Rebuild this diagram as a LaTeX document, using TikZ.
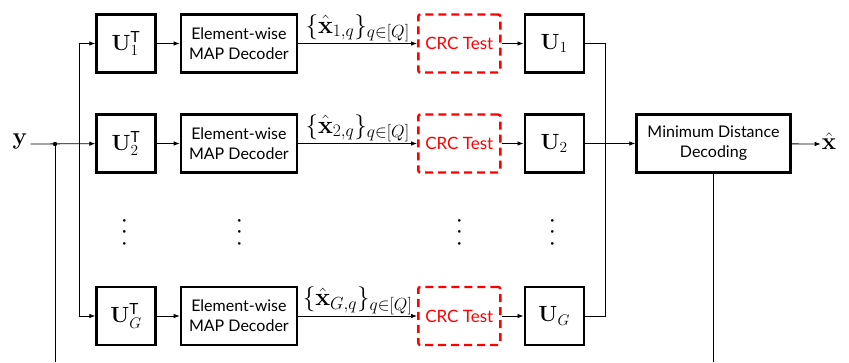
\RequirePackage{fix-cm}
\documentclass[tikz,border=0pt]{standalone}
\usepackage{amsmath}
\usepackage[no-math]{fontspec}
\setmainfont{Lato}
\usetikzlibrary{arrows.meta, positioning}

\begin{document}
\begin{tikzpicture}[
    x=1pt, y=-1pt,
    blk/.style={draw, line width=2.4pt, minimum height=58pt, align=center, font=\fontsize{16}{20}\selectfont},
    mtx/.style={blk, minimum width=59pt, font=\fontsize{22}{26}\selectfont},
    dec/.style={blk, minimum width=116pt},
    crc/.style={blk, red, dash pattern=on 8pt off 5pt, rounded corners=2pt, minimum width=82pt, font=\fontsize{17}{20}\selectfont},
    wire/.style={line width=0.8pt},
    arr/.style={wire, -{Latex[length=6pt, width=4.5pt]}},
    lbl/.style={font=\fontsize{25}{28}\selectfont, inner sep=1pt},
    vdts/.style={rotate=90, inner sep=0pt, font=\fontsize{26}{28}\selectfont}
  ]
  \useasboundingbox (0,0) rectangle (849,362);

  % row 1
  \node[mtx] (ut1) at (126,43.5) {$\mathbf{U}_1^{\text{T}}$};
  \node[dec, right=23pt of ut1] (map1) {Element-wise\\MAP Decoder};
  \node[crc, right=119pt of map1] (crc1) {CRC Test};
  \node[mtx, right=22pt of crc1] (u1) {$\mathbf{U}_1$};

  % row 2
  \node[mtx] (ut2) at (126,143.5) {$\mathbf{U}_2^{\text{T}}$};
  \node[dec, right=23pt of ut2] (map2) {Element-wise\\MAP Decoder};
  \node[crc, right=119pt of map2] (crc2) {CRC Test};
  \node[mtx, right=22pt of crc2] (u2) {$\mathbf{U}_2$};

  % row G
  \node[mtx] (utG) at (126,316) {$\mathbf{U}_G^{\text{T}}$};
  \node[dec, right=23pt of utG] (mapG) {Element-wise\\MAP Decoder};
  \node[crc, right=119pt of mapG] (crcG) {CRC Test};
  \node[mtx, right=22pt of crcG] (uG) {$\mathbf{U}_G$};

  \node[vdts] (d1) at (125,230) {$\cdots$};
  \node[vdts] (d2) at (240,230) {$\cdots$};
  \node[vdts] (d3) at (460,230) {$\cdots$};
  \node[vdts] (d4) at (553,230) {$\cdots$};

  \node[blk, minimum width=154pt] (md) at (713.5,143.5) {Minimum Distance\\Decoding};

  \node[font=\fontsize{24}{28}\selectfont, inner sep=3pt] (yin) at (20,141) {$\mathbf{y}$};
  \node[font=\fontsize{24}{28}\selectfont, inner sep=1pt] (xout) at (829,141) {$\hat{\mathbf{x}}$};

  \coordinate (split) at (55,144);
  \coordinate (lbus) at (79,144);
  \coordinate (rbus) at (605,144);
  \coordinate (bl) at (55,362);
  \coordinate (br) at (md.south |- bl);

  % input side
  \draw[arr] (yin.east |- split) -- (ut2);
  \fill (split) circle (2.2pt);
  \draw[wire] (split) -- (bl);
  \draw[wire] (lbus |- ut1) -- (lbus |- utG);
  \draw[arr] (lbus |- ut1) -- (ut1);
  \draw[arr] (lbus |- utG) -- (utG);

  % branches
  \draw[arr] (ut1) -- (map1);
  \draw[arr] (ut2) -- (map2);
  \draw[arr] (utG) -- (mapG);
  \draw[arr] (map1) -- node[lbl, above] {$\{\hat{\mathbf{x}}_{1,q}\}_{q\in[Q]}$} (crc1);
  \draw[arr] (map2) -- node[lbl, above] {$\{\hat{\mathbf{x}}_{2,q}\}_{q\in[Q]}$} (crc2);
  \draw[arr] (mapG) -- node[lbl, above] {$\{\hat{\mathbf{x}}_{G,q}\}_{q\in[Q]}$} (crcG);
  \draw[arr] (crc1) -- (u1);
  \draw[arr] (crc2) -- (u2);
  \draw[arr] (crcG) -- (uG);

  % output side
  \draw[wire] (u1.east) -| (rbus |- uG.east) -- (uG.east);
  \draw[arr] (u2) -- (md);
  \draw[arr] (md) -- (xout.west |- split);
  \draw[wire] (md.south) -- (br);
\end{tikzpicture}
\end{document}
